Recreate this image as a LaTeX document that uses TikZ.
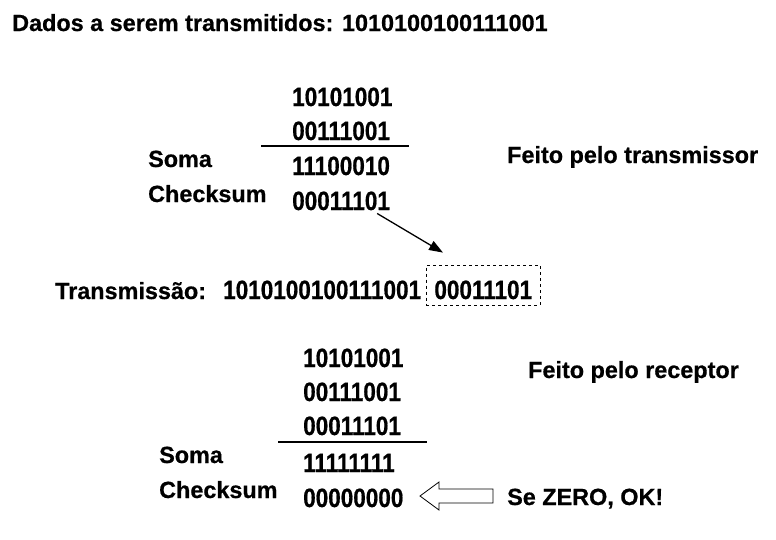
\documentclass[tikz,border=0pt]{standalone}
\usepackage{fontspec}
\setmainfont{Liberation Sans}[BoldFeatures={FakeBold=0.6}]
\newfontfamily\bitsfont{Liberation Sans}[FakeStretch=0.85, BoldFeatures={FakeBold=0.6}]
\usetikzlibrary{arrows.meta}

\begin{document}
\begin{tikzpicture}[x=1pt, y=-1pt,
                    txt/.style={anchor=base west, inner sep=0pt, font=\bfseries\fontsize{23.4}{27}\selectfont},
                    bits/.style={txt, font=\bitsfont\bfseries\fontsize{26.5}{30}\selectfont},
                    sumline/.style={line width=2pt},
                    dashbox/.style={bits, draw, dashed, line width=0.8pt, text height=34pt, text depth=6pt, inner xsep=8pt}
                ]
                    \useasboundingbox (0,0) rectangle (776,539);
                    \node[txt] (title) at (12,31) {Dados a serem transmitidos: 1010100100111001};

                    % transmissor
                    \node[bits] (tx1) at (292,106) {10101001};
                    \node[bits] (tx2) at (292,140) {00111001};
                    \node[bits] (txsum) at (292,175) {11100010};
                    \node[bits] (txck) at (292,210) {00011101};
                    \node[txt] (soma1) at (148,167) {Soma};
                    \node[txt] (ck1) at (148,202) {Checksum};
                    \node[txt] (feitotx) at (507,163) {Feito pelo transmissor};
                    \draw[sumline] (261,146) -- (409,146);

                    % transmissao
                    \node[txt] (trans) at (55,299) {Transmissão:};
                    \node[bits] (transdata) at (223,299) {1010100100111001};
                    \node[dashbox] (transck) at (426,299) {00011101};
                    \draw[line width=1.3pt, -{Triangle[length=14pt, width=10pt]}]
                        ([xshift=-13pt, yshift=-3pt]txck.south east) -- ([xshift=17pt, yshift=12pt]transck.north west);

                    % receptor
                    \node[bits] (rx1) at (303,367) {10101001};
                    \node[bits] (rx2) at (303,401) {00111001};
                    \node[bits] (rx3) at (303,435) {00011101};
                    \node[bits] (rxsum) at (303,472) {11111111};
                    \node[bits] (rxck) at (303,507) {00000000};
                    \node[txt] (soma2) at (159,463) {Soma};
                    \node[txt] (ck2) at (159,498) {Checksum};
                    \node[txt] (feitorx) at (528,378) {Feito pelo receptor};
                    \node[txt] (ok) at (507,505) {Se ZERO, OK!};
                    \draw[sumline] (278,442) -- (427,442);
                    \draw[line width=0.8pt] (420,496) -- (439,482) -- (439,489) -- (493,489)
                        -- (493,503) -- (439,503) -- (439,510) -- cycle;
                \end{tikzpicture}
\end{document}
